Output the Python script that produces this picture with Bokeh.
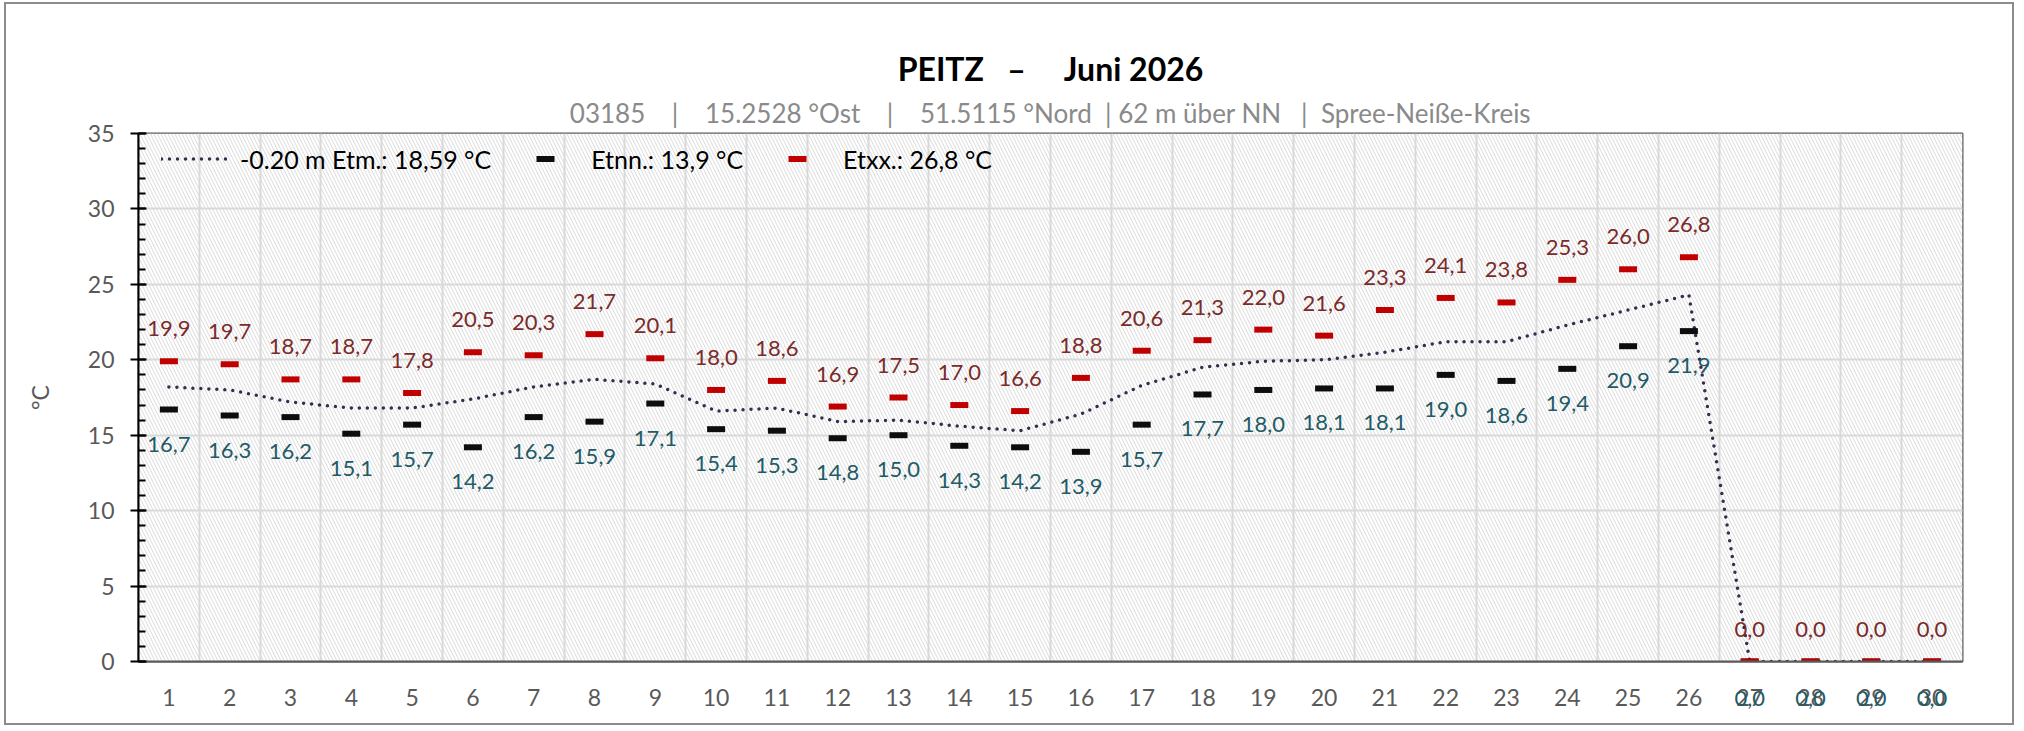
from bokeh.plotting import figure
from bokeh.models import (ColumnDataSource, LabelSet, Range1d, FixedTicker,
                          BoxAnnotation, Legend, LegendItem, Title, LinearAxis)
from bokeh.core.properties import value
from bokeh.embed import file_html
from bokeh.resources import INLINE

# ---------------- data ----------------
days = list(range(1, 31))
tmax = [19.9, 19.7, 18.7, 18.7, 17.8, 20.5, 20.3, 21.7, 20.1, 18.0,
        18.6, 16.9, 17.5, 17.0, 16.6, 18.8, 20.6, 21.3, 22.0, 21.6,
        23.3, 24.1, 23.8, 25.3, 26.0, 26.8, 0.0, 0.0, 0.0, 0.0]
tmin = [16.7, 16.3, 16.2, 15.1, 15.7, 14.2, 16.2, 15.9, 17.1, 15.4,
        15.3, 14.8, 15.0, 14.3, 14.2, 13.9, 15.7, 17.7, 18.0, 18.1,
        18.1, 19.0, 18.6, 19.4, 20.9, 21.9, 0.0, 0.0, 0.0, 0.0]
tmean = [18.2, 18.0, 17.2, 16.8, 16.8, 17.4, 18.2, 18.7, 18.4, 16.6,
         16.8, 15.9, 16.0, 15.6, 15.3, 16.4, 18.3, 19.5, 19.9, 20.0,
         20.5, 21.2, 21.2, 22.3, 23.3, 24.3, 0.0, 0.0, 0.0, 0.0]

legend_mean = "-0.20 m Etm.: 18,59 °C"
legend_min = "Etnn.: 13,9 °C"
legend_max = "Etxx.: 26,8 °C"
NB = "\u00a0"
title_text = "PEITZ" + NB * 3 + "–" + NB * 5 + "Juni 2026"
subtitle_text = ("03185" + NB * 4 + "|" + NB * 4 + "15.2528 °Ost" + NB * 4 + "|" + NB * 4 +
                 "51.5115 °Nord" + NB * 2 + "| 62 m über NN" + NB * 3 + "|" + NB * 2 +
                 "Spree-Neiße-Kreis")
y_axis_title = "°C"
y_major = [0, 5, 10, 15, 20, 25, 30, 35]
y_minor = list(range(0, 36))

FONT = "Lato"
GRAY = "#595959"
TEAL = "#1f5b66"
MAROON = "#7a2b2b"


def fmt(v):
    return f"{v:.1f}".replace(".", ",")


src = ColumnDataSource(dict(
    day=days, tmax=tmax, tmin=tmin, tmean=tmean,
    lmax=[fmt(v) for v in tmax], lmin=[fmt(v) for v in tmin],
))

p = figure(width=2010, height=723, output_backend="svg", toolbar_location=None,
           x_range=Range1d(0.5, 30.5), y_range=Range1d(0, 35),
           min_border_left=132, min_border_right=54, min_border_top=129,
           min_border_bottom=66)
p.styles = {"border": "2px solid #8c8c8c", "margin-left": "4px", "margin-top": "2px"}
p.outline_line_color = GRAY
p.outline_line_width = 2
p.background_fill_color = "white"
p.border_fill_color = "white"

# hatched plot background
bg = BoxAnnotation(fill_color="white", fill_alpha=1.0, line_alpha=0,
                   hatch_pattern="\\", hatch_color="#dadada",
                   hatch_scale=7, hatch_weight=1, level="image")
p.add_layout(bg)

# grid
p.xgrid.ticker = FixedTicker(ticks=[d + 0.5 for d in days[:-1]])
p.ygrid.ticker = FixedTicker(ticks=y_major)
p.xgrid.grid_line_color = "#d9d9d9"
p.ygrid.grid_line_color = "#d9d9d9"
p.xgrid.grid_line_width = 2
p.ygrid.grid_line_width = 2

# axes
p.yaxis.ticker = FixedTicker(ticks=y_major, minor_ticks=y_minor)
p.yaxis.axis_line_color = "black"
p.yaxis.axis_line_width = 2
p.yaxis.major_tick_line_color = "black"
p.yaxis.major_tick_line_width = 2
p.yaxis.major_tick_in = 8
p.yaxis.major_tick_out = 8
p.yaxis.minor_tick_line_color = "black"
p.yaxis.minor_tick_line_width = 2
p.yaxis.minor_tick_in = 7
p.yaxis.minor_tick_out = 0
p.yaxis.major_label_standoff = 16
p.yaxis.major_label_text_font = FONT
p.yaxis.major_label_text_font_size = "23px"
p.yaxis.major_label_text_color = GRAY
p.yaxis.axis_label = y_axis_title
p.yaxis.axis_label_text_font = FONT
p.yaxis.axis_label_text_font_size = "23px"
p.yaxis.axis_label_text_font_style = "normal"
p.yaxis.axis_label_text_color = GRAY
p.yaxis.axis_label_standoff = 31

p.xaxis.ticker = FixedTicker(ticks=days)
p.xaxis.axis_line_color = GRAY
p.xaxis.axis_line_width = 2
p.xaxis.major_tick_line_color = None
p.xaxis.minor_tick_line_color = None
p.xaxis.major_label_standoff = 21
p.xaxis.major_label_text_font = FONT
p.xaxis.major_label_text_font_size = "23px"
p.xaxis.major_label_text_color = GRAY

# series
r_mean = p.line("day", "tmean", source=src, line_color="#3b2a50", line_width=3.5,
                line_dash="0 8", line_cap="round")
r_min = p.scatter("day", "tmin", source=src, marker="dash", size=18,
                  line_color="#0d0d0d", line_width=6)
r_max = p.scatter("day", "tmax", source=src, marker="dash", size=18,
                  line_color="#c00000", line_width=6)

lbl_max = LabelSet(x="day", y="tmax", text="lmax", source=src, y_offset=25,
                   text_align="center", text_baseline="alphabetic",
                   text_font=value(FONT), text_font_size="22px",
                   text_color=MAROON)
lbl_min = LabelSet(x="day", y="tmin", text="lmin", source=src, y_offset=-42,
                   text_align="center", text_baseline="alphabetic",
                   text_font=value(FONT), text_font_size="22px",
                   text_color=TEAL)
p.add_layout(lbl_max)
p.add_layout(lbl_min)

# zero-value min labels fall below the frame (overlapping the day numbers)
zero_days = [d for d, v in zip(days, tmin) if v == 0]
zero_axis = LinearAxis(ticker=FixedTicker(ticks=zero_days),
                       major_label_overrides={d: fmt(0.0) for d in zero_days},
                       axis_line_color=None, major_tick_line_color=None,
                       minor_tick_line_color=None, major_tick_out=0, major_tick_in=0,
                       major_label_standoff=-18, major_label_text_font=FONT,
                       major_label_text_font_size="22px", major_label_text_color=TEAL)
p.add_layout(zero_axis, "below")

legend = Legend(items=[LegendItem(label=legend_mean, renderers=[r_mean]),
                       LegendItem(label=legend_min, renderers=[r_min]),
                       LegendItem(label=legend_max, renderers=[r_max])],
                location=(23, 480), orientation="horizontal",
                padding=0, margin=0, spacing=21, glyph_width=66, glyph_height=45,
                label_height=45, label_standoff=13,
                label_text_font=FONT, label_text_font_size="25px",
                label_text_color="black", border_line_alpha=0,
                background_fill_alpha=0)
p.add_layout(legend)

# titles (subtitle first = closest to the plot)
p.add_layout(Title(text=subtitle_text, align="center", offset=13, standoff=10,
                   text_font=FONT, text_font_size="26px", text_font_style="normal",
                   text_color="#8a8a8a"), "above")
p.add_layout(Title(text=title_text, align="center", offset=10, standoff=4,
                   text_font=FONT, text_font_size="32px", text_font_style="bold",
                   text_color="black"), "above")

open("out.html", "w").write(file_html(p, INLINE))
